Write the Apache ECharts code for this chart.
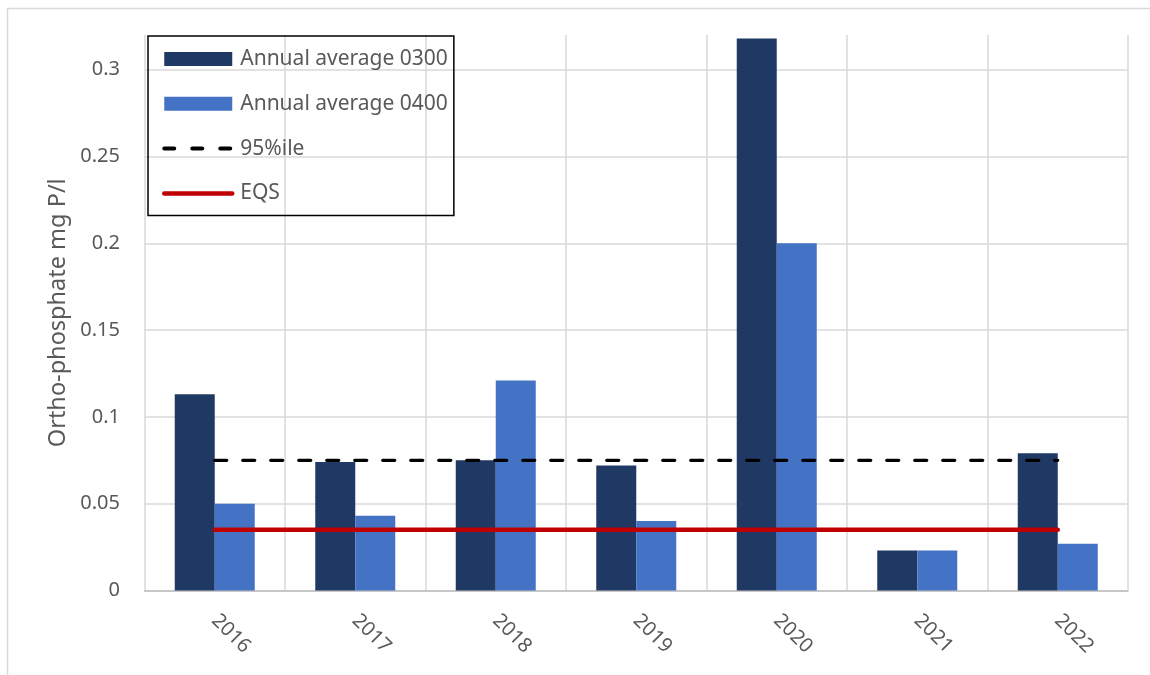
<!DOCTYPE html>
<html>
<head>
<meta charset="utf-8">
<script src="https://cdn.jsdelivr.net/npm/echarts@6/dist/echarts.min.js"></script>
<style>
  html, body { margin: 0; padding: 0; background: #fff; }
  #chart { width: 1150px; height: 675px; }
</style>
</head>
<body>
<div id="chart"></div>
<script>
// Years on the category axis
const years = ['2016', '2017', '2018', '2019', '2020', '2021', '2022'];
// Annual average ortho-phosphate (mg P/l) at the two sampling points
const avg0300 = [0.113, 0.074, 0.075, 0.072, 0.318, 0.023, 0.079];
const avg0400 = [0.050, 0.043, 0.121, 0.040, 0.200, 0.023, 0.027];
// Reference levels drawn across all years
const pct95 = [0.075, 0.075, 0.075, 0.075, 0.075, 0.075, 0.075];
const eqs = [0.035, 0.035, 0.035, 0.035, 0.035, 0.035, 0.035];
// Value axis range and step
const yMin = 0, yMax = 0.32, yStep = 0.05;

const FONT = 'Noto Sans';
const TXT = '#595959';
const GRID = '#d9d9d9';

const chart = echarts.init(document.getElementById('chart'), null, { renderer: 'canvas' });

// horizontal grid colours: one per tick, the last one (top of plot) hidden
const tickCount = Math.floor((yMax - yMin) / yStep + 1e-9) + 2;
const hColors = [];
for (let i = 0; i < tickCount; i++) hColors.push(i === tickCount - 1 ? 'rgba(0,0,0,0)' : GRID);

chart.setOption({
  backgroundColor: '#ffffff',
  animation: false,
  textStyle: { fontFamily: FONT },
  graphic: [{
    type: 'rect',
    left: 5, top: 6,
    shape: { x: 0, y: 0, width: 1300, height: 800 },
    style: { fill: 'none', stroke: GRID, lineWidth: 1.5 },
    silent: true, z: -10
  }],
  grid: { left: 144.5, right: 22, top: 35, bottom: 84.5, containLabel: false },
  legend: {
    orient: 'vertical',
    left: 148, top: 36,
    padding: [12, 6, 11, 14],
    itemWidth: 68, itemHeight: 14,
    itemGap: 22.8,
    borderColor: '#000', borderWidth: 1.5,
    backgroundColor: 'transparent',
    textStyle: { color: TXT, fontSize: 21, fontFamily: FONT, lineHeight: 22, padding: [0, 0, 0, 3] },
    data: [
      { name: 'Annual average 0300', icon: 'rect' },
      { name: 'Annual average 0400', icon: 'rect' },
      { name: '95%ile', itemStyle: { opacity: 0 },
        lineStyle: { width: 4, type: [10, 18], cap: 'round', color: '#000000' } },
      { name: 'EQS', itemStyle: { opacity: 0 },
        lineStyle: { width: 4.5, cap: 'round', color: '#c00000' } }
    ]
  },
  xAxis: {
    type: 'category',
    data: years,
    boundaryGap: true,
    axisLine: { show: true, lineStyle: { color: '#bfbfbf', width: 1.5 } },
    axisTick: { show: false },
    splitLine: { show: true, lineStyle: { color: GRID, width: 1.5 } },
    axisLabel: { color: TXT, fontSize: 20, fontFamily: FONT, rotate: -45, margin: 27 }
  },
  yAxis: {
    type: 'value',
    min: yMin, max: yMax, interval: yStep,
    name: 'Ortho-phosphate mg P/l',
    nameLocation: 'middle',
    nameGap: 74,
    nameMoveOverlap: false,
    nameTextStyle: { color: TXT, fontSize: 23.5, fontFamily: FONT },
    axisLine: { show: false },
    axisTick: { show: false },
    splitLine: { show: true, lineStyle: { color: hColors, width: 1.5 } },
    axisLabel: { color: TXT, fontSize: 20, fontFamily: FONT, margin: 24.5, showMaxLabel: false }
  },
  series: [
    {
      name: 'Annual average 0300', type: 'bar', data: avg0300,
      barWidth: 40, barGap: '0%',
      itemStyle: { color: '#203864' }
    },
    {
      name: 'Annual average 0400', type: 'bar', data: avg0400,
      barWidth: 40, barGap: '0%',
      itemStyle: { color: '#4472c4' }
    },
    {
      name: '95%ile', type: 'line', data: pct95,
      symbol: 'none', z: 5,
      lineStyle: { color: '#000000', width: 3.3, type: [12, 16], cap: 'round' },
      itemStyle: { color: '#000000' }
    },
    {
      name: 'EQS', type: 'line', data: eqs,
      symbol: 'none', z: 5,
      lineStyle: { color: '#c00000', width: 4.5, cap: 'round' },
      itemStyle: { color: '#c00000' }
    }
  ]
});
</script>
</body>
</html>
